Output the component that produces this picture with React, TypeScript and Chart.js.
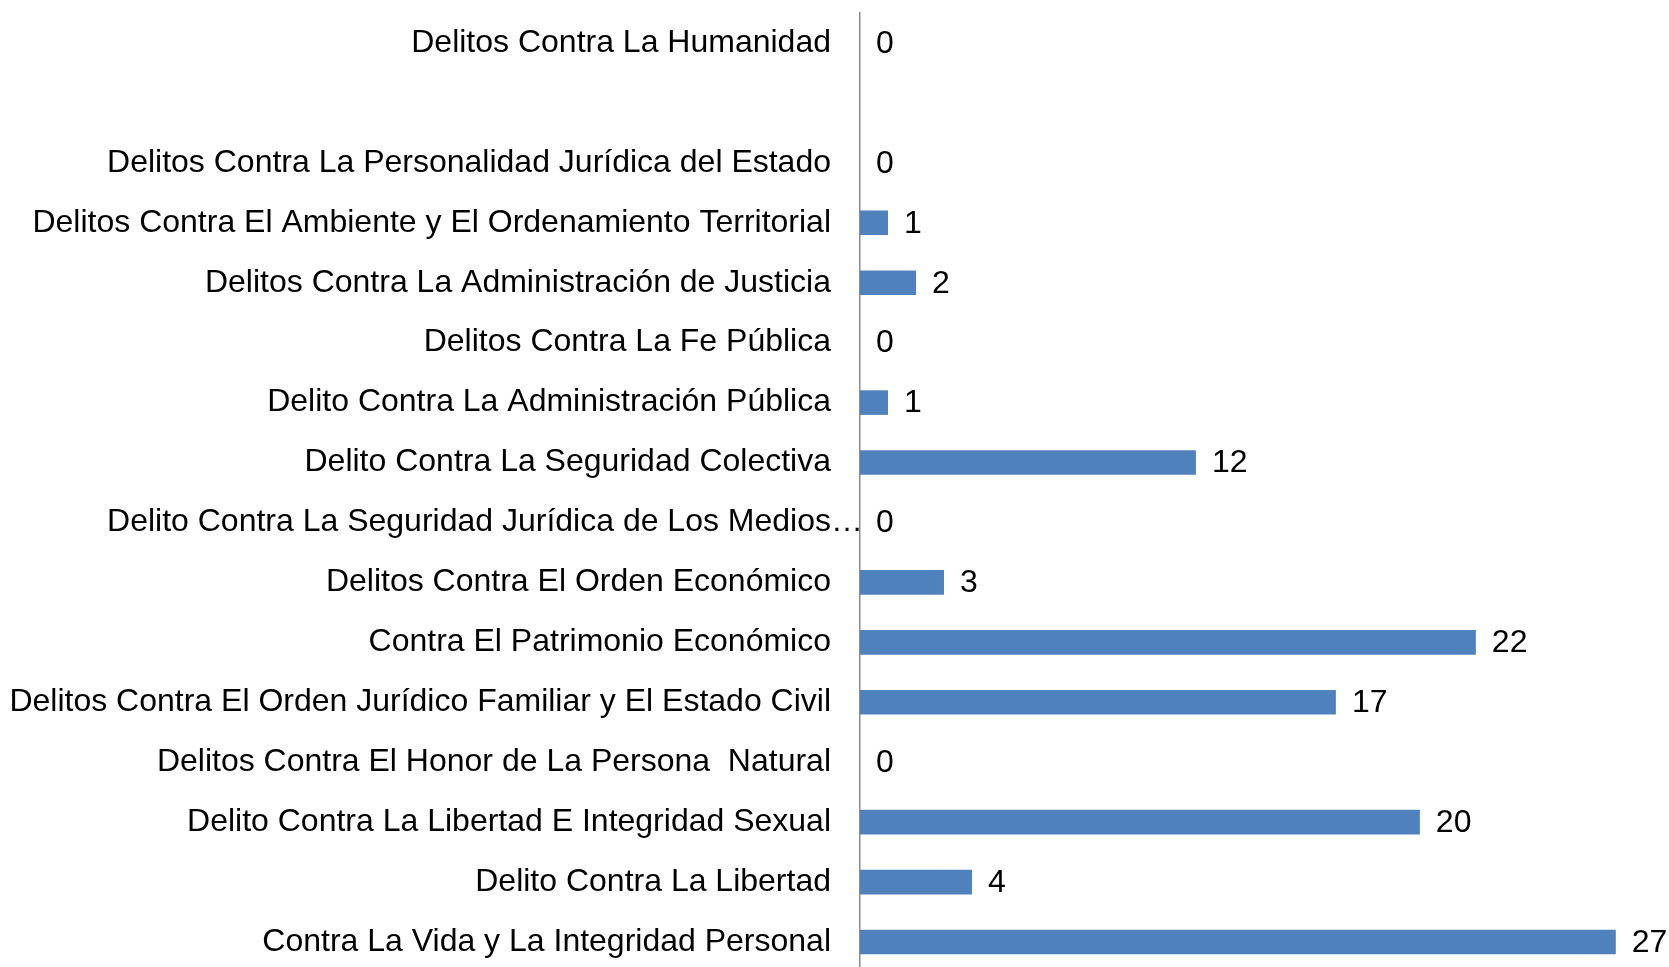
import React, { useEffect, useRef } from "react";
import { Chart, registerables } from "chart.js";

Chart.register(...registerables);

const categories: string[] = [
  "Delitos Contra La Humanidad",
  "",
  "Delitos Contra La Personalidad Jurídica del Estado",
  "Delitos Contra El Ambiente y El Ordenamiento Territorial",
  "Delitos Contra La Administración de Justicia",
  "Delitos Contra La Fe Pública",
  "Delito Contra La Administración Pública",
  "Delito Contra La Seguridad Colectiva",
  "Delito Contra La Seguridad Jurídica de Los Medios…",
  "Delitos Contra El Orden Económico",
  "Contra El Patrimonio Económico",
  "Delitos Contra El Orden Jurídico Familiar y El Estado Civil",
  "Delitos Contra El Honor de La Persona  Natural",
  "Delito Contra La Libertad E Integridad Sexual",
  "Delito Contra La Libertad",
  "Contra La Vida y La Integridad Personal",
];

const values: (number | null)[] = [0, null, 0, 1, 2, 0, 1, 12, 0, 3, 22, 17, 0, 20, 4, 27];

const FONT = "'Liberation Sans', Arial, sans-serif";
const FONT_SIZE = 32;
const ELLIPSIS = "…";

const dataLabels = {
  id: "dataLabels",
  afterDatasetsDraw(chart: any) {
    const ctx = chart.ctx;
    const meta = chart.getDatasetMeta(0);
    const yScale = chart.scales.y;
    ctx.save();
    ctx.font = `${FONT_SIZE}px ${FONT}`;
    ctx.fillStyle = "#000000";
    ctx.textAlign = "left";
    ctx.textBaseline = "middle";
    meta.data.forEach((bar: any, i: number) => {
      const v = values[i];
      if (v === null || v === undefined) return;
      ctx.fillText(String(v), bar.x + 16, bar.y + 1);
    });
    // overflowing ellipsis of truncated category labels (as Excel draws them)
    categories.forEach((c, i) => {
      if (c.endsWith(ELLIPSIS)) {
        const y = yScale.getPixelForValue(i);
        ctx.fillText(ELLIPSIS, yScale.right - 29, y);
      }
    });
    ctx.restore();
  },
};

export default function App() {
  const ref = useRef<HTMLCanvasElement | null>(null);
  useEffect(() => {
    if (!ref.current) return;
    const chart = new Chart(ref.current, {
      type: "bar",
      data: {
        labels: categories,
        datasets: [
          {
            data: values as any,
            backgroundColor: "#4F81BD",
            borderWidth: 0,
            barPercentage: 0.41,
            categoryPercentage: 1,
          },
        ],
      },
      options: {
        indexAxis: "y",
        animation: false,
        responsive: true,
        maintainAspectRatio: false,
        layout: { padding: { top: 13, bottom: 0, left: 0, right: 0 } },
        plugins: {
          legend: { display: false },
          tooltip: { enabled: false },
          title: { display: false },
        },
        scales: {
          x: {
            display: false,
            min: 0,
            max: 28.9,
          },
          y: {
            afterFit: (s: any) => {
              s.width = 860;
              s.paddingTop = 0;
              s.paddingBottom = 0;
            },
            grid: { display: false, drawTicks: false },
            border: { display: true, color: "#8C8C8C", width: 1.5 },
            ticks: {
              autoSkip: false,
              padding: 29,
              color: "#000000",
              font: { family: FONT, size: FONT_SIZE },
              callback: (_v: any, i: number) => {
                const c = categories[i];
                return c.endsWith(ELLIPSIS) ? c.slice(0, -ELLIPSIS.length) : c;
              },
            },
          },
        },
      },
      plugins: [dataLabels],
    });
    return () => chart.destroy();
  }, []);
  return (
    <div
      style={{
        position: "fixed",
        left: 0,
        top: 0,
        width: 1669,
        height: 967,
        overflow: "hidden",
        background: "#ffffff",
      }}
    >
      <div style={{ position: "relative", width: 1669, height: 972 }}>
        <canvas ref={ref} />
      </div>
    </div>
  );
}
